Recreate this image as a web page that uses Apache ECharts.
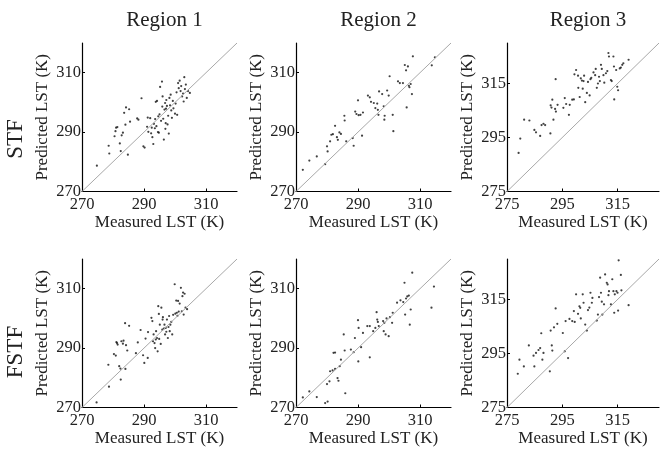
<!DOCTYPE html>
<html>
<head>
<meta charset="utf-8">
<script src="https://cdn.jsdelivr.net/npm/echarts@6/dist/echarts.min.js"></script>
<style>
  html, body { margin: 0; padding: 0; background: #fff; }
  #chart { width: 660px; height: 454px; }
</style>
</head>
<body>
<div id="chart"></div>
<script>
// panel titles / row labels
const regions = ['Region 1', 'Region 2', 'Region 3'];
const methods = ['STF', 'FSTF'];

// axis ranges and tick labels per region
const range12 = [270, 320];
const range3 = [275, 330];
const ticks12 = [270, 290, 310];
const ticks3 = [275, 295, 315];

// [measured, predicted] pairs
const stfRegion1 = [
  [274.8,278.7],[278.6,285.4],[278.8,282.8],[280.5,288.6],[280.8,290.3],[281,291.5],[281.4,291.7],
  [282.2,286.2],[282.5,283.6],[282.8,288.9],[283.2,289.8],[283.6,296.5],[284,292.5],[284.2,298.3],
  [284.8,282.4],[285.2,297.7],[285.5,293.5],[287.8,294.6],[288.2,294.2],[289.2,301.4],[289.8,285.2],
  [290.2,284.8],[291,291.8],[291.2,294.9],[291.4,290.1],[292,294.7],[292.5,291.5],[292.7,288.3],
  [293,286],[293.2,292.8],[293.5,291.3],[293.8,300.2],[294,292],[294.2,300.5],[294.5,290],
  [294.8,289.8],[295,296],[295.2,305.2],[295.5,293.8],[295.8,307],[296,302],[296.2,294.5],
  [296.4,287.5],[296.6,297.6],[296.8,299.8],[297,293],[297.2,300.8],[297.4,298.8],[297.6,292.6],
  [297.8,295.5],[298,289.5],[298.2,301.5],[298.4,299],[298.8,297.3],[299,294.8],[299.3,300.5],
  [299.5,298],[300,296.2],[300.5,303.4],[300.7,295.8],[301,306.5],[301.2,304.8],[301.5,307.3],
  [301.8,303.8],[302,305.5],[302.3,302],[302.6,303],[302.8,300.3],[303,308.5],[303.2,304.5],
  [303.5,306],[303.8,301.5],[304.2,303.8],[304.8,303.2],[294.6,295.3],[295.9,298.6],[293.6,294.4],
  [292.3,289.6],[297.1,297.9],[298.6,302.6],[296.9,291.1],[300.2,299.6]
];
const stfRegion2 = [
  [272.2,277.3],[274.3,280.4],[276.7,281.8],[279.4,279.2],[280,285.2],[280.2,283.5],[281,286.9],
  [281.4,289.1],[281.9,289.3],[282.6,292.1],[283.2,288.3],[283.5,287.4],[284,289.9],[284.5,289.4],
  [285.6,295.5],[285.7,293.9],[286.2,286.9],[288.3,288],[288.6,285.4],[289.1,296.9],[289.5,296.1],
  [290.2,295.7],[290,300.7],[290.8,295.8],[291.3,288.8],[291.6,296.6],[293.2,302.3],[293.8,301.7],
  [294.2,300.2],[295.1,299.8],[295.6,298.1],[296.2,299.6],[296.4,297.5],[296.6,295.8],[296.8,303.7],
  [297.8,302.8],[298.3,298.7],[298.5,294.2],[298.6,295.5],[299.4,304],[299.9,302.3],[300.2,308.8],
  [301.2,295.8],[301.4,290.3],[302.9,307.1],[303.5,306.5],[304.5,306.5],[305.1,312.6],[305.5,310.8],
  [305.7,298.3],[306.1,312.1],[306.4,305.6],[306.6,305.1],[307,306.2],[307.4,302.8],[307.7,315.5],
  [313.8,312.5],[314.8,315.2]
];
const stfRegion3 = [
  [279.2,289.3],[279.8,294.6],[281.2,301.6],[283.1,301.3],[284.9,297.8],[285.5,296.9],[287,295.6],
  [287.5,299.6],[288.2,300.1],[288.8,299.6],[290.7,296.5],[290.8,306.9],[291.1,306.1],[291.4,309],
  [291.8,301.6],[292.4,305.6],[292.7,304.6],[292.6,316.6],[293.3,307.1],[295.4,306],[295.9,309.6],
  [296.4,307.4],[297.4,303.4],[297.7,307.1],[298.6,309],[299.2,309.1],[299.4,318.4],[300,320],
  [300.7,317.9],[300.8,313.4],[301.3,310],[301.7,316.9],[302.1,316.1],[302.4,313.1],[302.7,315.9],
  [302.9,317.9],[303.3,308.1],[303.9,311.5],[304.3,315.6],[304.9,310.6],[305.2,316.6],[305.5,317.1],
  [306.3,319.1],[306.9,318.1],[307.1,320.4],[307.5,313.4],[307.9,315],[308.3,317.5],[308.6,315.9],
  [309,321.9],[309.3,320.4],[309.9,318.1],[310.2,315.3],[310.8,318.8],[311.3,319.6],[311.7,326.3],
  [311.9,325],[312.6,316.3],[312.9,315.9],[313.5,325],[313.7,321.3],[313.8,309.1],[314.5,320],
  [314.9,313.8],[315.2,312.5],[315.8,320.6],[316.2,320.9],[316.7,321.9],[317.1,322.5],[319,323.8]
];
const fstfRegion1 = [
  [274.7,271.7],[278.7,277],[278.5,284.4],[280.3,288],[280.9,287.5],[281.1,292],[281.3,291.7],
  [281.5,291.2],[282,283.9],[282.4,283.1],[282.7,292.3],[283.4,292.5],[283.2,291.5],[283.9,298.4],
  [285.2,297.5],[282.5,279.4],[284,283],[284.2,291],[284.6,289.2],[287.4,288.3],[288,291.9],
  [288.9,296.1],[289.7,287.6],[290.1,285],[290.5,293.2],[291.3,295.4],[291.2,286.7],[292.4,300.2],
  [292.7,299.1],[292.9,292.3],[293.1,294.6],[293.4,291.7],[293.6,290],[293.9,295.7],[294.2,293.4],
  [294.4,288.9],[294.6,304.1],[294.8,301.5],[295.1,297.9],[295.4,291.4],[295.6,303.6],[296,299.6],
  [296.1,300.4],[296.4,296.6],[296.6,297.9],[296.8,294.6],[297,296.8],[297.2,295.5],[297.4,299.6],
  [297.7,293.4],[298.1,300.8],[298.3,295.7],[298.5,297.9],[298.8,298.8],[299.1,294.6],[299.9,311.5],
  [300.1,301.6],[300.4,306],[300.6,301.9],[301,305.9],[301.2,302.3],[301.5,305],[301.9,310.3],
  [302.2,302.4],[302.4,307.5],[302.6,308.7],[302.8,301.3],[303.1,308.3],[303.4,303.6],[303.9,303.1],
  [293.8,292.9],[295.9,296.2],[297.9,297.1],[299.4,301.2],[300.8,300.9],[294.9,293.1]
];
const fstfRegion2 = [
  [272.2,273.4],[274.3,275.4],[276.7,273.5],[279.4,271.5],[280.2,272],[280,277.9],[280.8,278.8],
  [281,282.2],[281.8,282.5],[282.6,283],[282.1,288.4],[282.6,288.5],[283.4,279.9],[283.7,279],
  [284.1,283.9],[284.5,286.1],[285.4,294.6],[285.7,289.2],[285.9,274.8],[287.7,289.5],[288.6,288.6],
  [289,293.4],[290,299.4],[290.2,296.8],[290.1,285.5],[291,290.3],[291.6,295.1],[293,297.4],
  [293.8,297.4],[293.8,286.9],[294.9,295.7],[295.6,296.8],[296,302.1],[296.2,299.6],[296.4,298.8],
  [296.7,297.4],[298.1,299.1],[298.3,295.7],[298.5,298.5],[298.9,294.6],[299.2,300],[299.9,294],
  [300.3,300.4],[301,298.5],[301.2,301.9],[302.6,305.3],[303.7,306.1],[304.6,305.5],[305,312],
  [305.2,301.3],[305.5,306.7],[305.9,307.4],[306.4,307.7],[306.7,297.9],[307,303],[307.5,315.4],
  [314.5,310.7],[313.7,303.6]
];
const fstfRegion3 = [
  [278.9,287.5],[279.5,292.7],[281.1,290.2],[282.9,298],[284.6,294.2],[284.9,290.2],[285.5,295.2],
  [286.4,296.3],[287,297],[287.8,292.7],[287.4,302.5],[288.2,295.2],[290.5,288.4],[290.8,303.5],
  [291.2,298],[291.4,296.1],[292,304.7],[292.6,311.7],[293.2,306],[295.2,302.6],[295.9,295.8],
  [296.2,307],[297.1,293.3],[297.6,307.8],[298.6,307],[299.2,310.7],[299.5,306.7],[300,316.9],
  [300.7,309.7],[301.2,312.5],[301.5,311.9],[301.7,308],[302.4,316.9],[302.7,313.8],[303.3,305.7],
  [303.9,303.5],[304.3,311.1],[304.8,312],[305.2,317.5],[305.7,313.8],[305.9,315.6],[307.5,307.2],
  [307.9,309.4],[308.3,315.9],[308.7,323.1],[309,317.5],[309.3,314.2],[309.5,309.4],[310.1,313.2],
  [310.5,324.3],[311.1,321.2],[311.4,320.6],[311.7,316.6],[311.9,318.1],[312.6,313.2],[313.1,322.5],
  [313.5,318.1],[313.8,310.1],[314,316.9],[314.6,318.1],[315,317.5],[315.2,310.9],[315.4,329.5],
  [316.2,324.1],[316.4,318.4],[319,312.9]
];

const panels = [
  { data: stfRegion1, range: range12, ticks: ticks12 },
  { data: stfRegion2, range: range12, ticks: ticks12 },
  { data: stfRegion3, range: range3, ticks: ticks3 },
  { data: fstfRegion1, range: range12, ticks: ticks12 },
  { data: fstfRegion2, range: range12, ticks: ticks12 },
  { data: fstfRegion3, range: range3, ticks: ticks3 }
];

// layout (px)
const colLeft = [82, 296, 507];
const colWidth = [155, 155, 152];
const rowTop = [43, 259];
const rowHeight = 148.5;

const font = '"Liberation Serif", "Times New Roman", serif';

function axisCommon(p, name, isY) {
  return {
    type: 'value',
    min: p.range[0],
    max: p.range[1],
    interval: 20,
    name: name,
    nameLocation: 'middle',
    nameGap: isY ? 31 : 23,
    nameTextStyle: { fontFamily: font, fontSize: 17, color: '#222' },
    axisLine: { show: true, onZero: false, lineStyle: { color: '#000', width: 1.2 } },
    axisTick: { show: true, inside: true, length: 3, customValues: p.ticks, lineStyle: { color: '#000' } },
    axisLabel: { customValues: p.ticks, fontFamily: font, fontSize: 16.5, color: '#222', margin: isY ? 1 : 5 },
    splitLine: { show: false }
  };
}

let grid = [], xAxis = [], yAxis = [], series = [], title = [];

panels.forEach(function (p, i) {
  const col = i % 3, row = Math.floor(i / 3);
  grid.push({ left: colLeft[col], top: rowTop[row], width: colWidth[col], height: rowHeight });
  xAxis.push(Object.assign(axisCommon(p, 'Measured LST (K)', false), { gridIndex: i }));
  yAxis.push(Object.assign(axisCommon(p, 'Predicted LST (K)', true), { gridIndex: i }));

  // 1:1 line
  series.push({
    type: 'line',
    xAxisIndex: i, yAxisIndex: i,
    data: [[p.range[0], p.range[0]], [p.range[1], p.range[1]]],
    symbol: 'none',
    silent: true,
    lineStyle: { color: '#a8a8a8', width: 1 }
  });
  series.push({
    type: 'scatter',
    xAxisIndex: i, yAxisIndex: i,
    data: p.data,
    symbolSize: 2.2,
    itemStyle: { color: '#111' }
  });
});

regions.forEach(function (r, c) {
  title.push({
    text: r,
    left: colLeft[c] + colWidth[c] / 2,
    top: 5,
    textAlign: 'center',
    textStyle: { fontFamily: font, fontSize: 21, fontWeight: 'normal', color: '#222' }
  });
});

const rowLabelY = [139, 352];
const graphic = methods.map(function (m, r) {
  return {
    type: 'text',
    x: 16, y: rowLabelY[r],
    rotation: Math.PI / 2,
    style: {
      text: m, fontFamily: font, fontSize: 23, fill: '#222',
      align: 'center', verticalAlign: 'middle'
    }
  };
});

const myChart = echarts.init(document.getElementById('chart'), null, { renderer: 'canvas' });
myChart.setOption({
  animation: false,
  backgroundColor: '#fff',
  title: title,
  grid: grid,
  xAxis: xAxis,
  yAxis: yAxis,
  series: series,
  graphic: graphic
});
</script>
</body>
</html>
